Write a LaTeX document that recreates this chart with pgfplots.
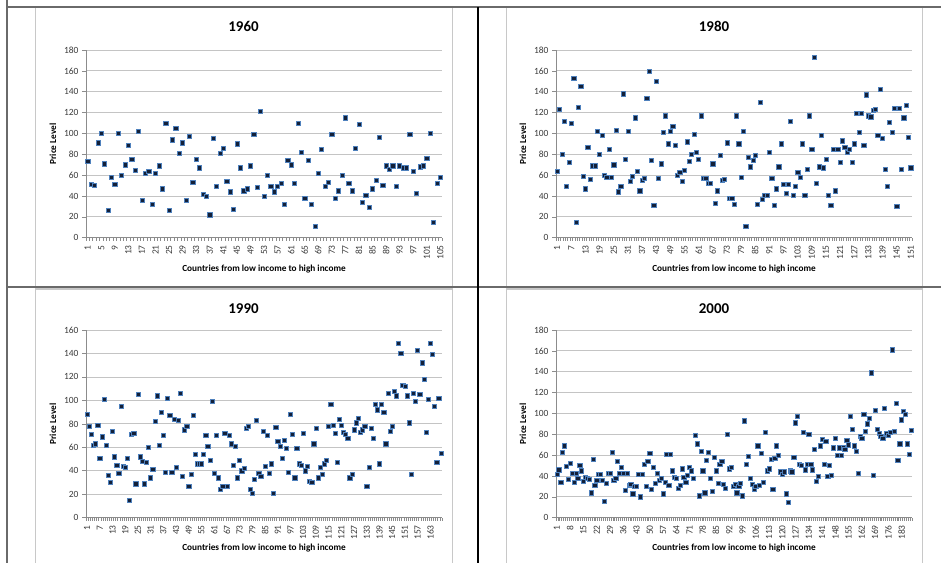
\documentclass[border=0pt]{standalone}
\usepackage{pgfplots}
\pgfplotsset{compat=1.18}
\usepackage{fontspec}
\setmainfont{Carlito}
\definecolor{mkfill}{HTML}{132038}
\definecolor{mkedge}{HTML}{4F81BD}
\definecolor{gridc}{HTML}{C4C4C4}
\definecolor{axc}{HTML}{8C8C8C}
\definecolor{tickc}{HTML}{3A3A3A}
\definecolor{tabc}{HTML}{6A6A6A}
\definecolor{chartb}{HTML}{C8C8C8}

\pgfplotsset{
  panel/.style={
    scale only axis, width=356bp, height=187.7bp, anchor=south west,
    axis x line*=bottom, axis y line*=left,
    axis line style={-, draw=axc, line width=0.8bp},
    tick align=outside,
    ymin=0,
    ymajorgrids, major grid style={draw=gridc, line width=0.8bp},
    major tick length=4bp, minor tick length=3bp,
    tick style={draw=axc, line width=0.6bp},
    major x tick style={draw=none},
    every tick label/.append style={font=\fontsize{9.5}{10}\selectfont, text=tickc},
    xticklabel style={rotate=90, anchor=east},
    yticklabel style={anchor=east},
    /pgf/number format/assume math mode=true,
    clip=false,
    enlargelimits=false,
  },
  mk/.style={only marks, mark=square*, mark size=2.1bp,
    mark options={fill=mkfill, draw=mkedge, line width=0.5bp}},
}

\begin{document}
\begin{tikzpicture}
\useasboundingbox (0bp,0bp) rectangle (941bp,563bp);
% chart area borders
\draw[chartb, line width=0.8bp] (35bp,275bp) rectangle (452bp,556bp);
\draw[chartb, line width=0.8bp] (506bp,275bp) rectangle (922bp,556bp);
\draw[chartb, line width=0.8bp] (35bp,-2bp) rectangle (452bp,274bp);
\draw[chartb, line width=0.8bp] (506bp,-2bp) rectangle (922bp,274bp);

% ---------------- 1960 ----------------
\begin{axis}[panel, at={(86bp,325.3bp)},
  xmin=0.5, xmax=105.5, ymax=180, ytick={0,20,...,180},
  xtick={1,5,...,105}, minor xtick={0.5,1.5,...,105.5}]
\addplot[mk] table[row sep=\\, x expr=\coordindex+1, y=v] {
v\\ 73\\ 51\\ 50\\ 91\\ 100\\ 71\\ 26\\ 58\\ 51\\ 100\\
60\\ 70\\ 89\\ 75\\ 65\\ 102\\ 36\\ 62\\ 64\\ 32\\
62\\ 69\\ 47\\ 110\\ 26\\ 94\\ 105\\ 81\\ 91\\ 36\\
97\\ 53\\ 75\\ 67\\ 42\\ 40\\ 22\\ 95\\ 49\\ 81\\
86\\ 54\\ 44\\ 27\\ 90\\ 67\\ 45\\ 47\\ 69\\ 99\\
48\\ 121\\ 40\\ 60\\ 49\\ 44\\ 49\\ 52\\ 32\\ 74\\
70\\ 52\\ 110\\ 82\\ 38\\ 74\\ 32\\ 11\\ 62\\ 85\\
49\\ 53\\ 99\\ 38\\ 45\\ 60\\ 115\\ 52\\ 45\\ 86\\
109\\ 34\\ 41\\ 29\\ 47\\ 55\\ 96\\ 50\\ 69\\ 66\\
69\\ 49\\ 69\\ 67\\ 67\\ 99\\ 64\\ 43\\ 68\\ 69\\
76\\ 100\\ 15\\ 52\\ 58\\
};
\end{axis}

% ---------------- 1980 ----------------
\begin{axis}[panel, at={(556bp,325.3bp)},
  xmin=0.5, xmax=151.5, ymax=180, ytick={0,20,...,180},
  xtick={1,7,...,151}, minor xtick={0.5,1.5,...,151.5}]
\addplot[mk] table[row sep=\\, x expr=\coordindex+1, y=v] {
v\\ 64\\ 123\\ 80\\ 112\\ 49\\ 72\\ 110\\ 153\\ 15\\ 125\\
145\\ 59\\ 47\\ 87\\ 56\\ 69\\ 69\\ 102\\ 80\\ 98\\
60\\ 58\\ 85\\ 58\\ 70\\ 103\\ 44\\ 49\\ 138\\ 75\\
102\\ 54\\ 59\\ 115\\ 64\\ 45\\ 55\\ 57\\ 134\\ 160\\
74\\ 31\\ 150\\ 57\\ 71\\ 101\\ 117\\ 90\\ 102\\ 107\\
89\\ 60\\ 63\\ 54\\ 65\\ 92\\ 73\\ 80\\ 99\\ 82\\
75\\ 117\\ 57\\ 57\\ 52\\ 52\\ 71\\ 33\\ 45\\ 79\\
55\\ 56\\ 91\\ 38\\
38\\ 32\\ 117\\ 90\\ 58\\ 102\\ 11\\ 77\\ 68\\ 74\\
79\\ 32\\ 130\\ 37\\ 41\\ 41\\ 82\\ 57\\ 31\\ 47\\
68\\ 90\\ 51\\ 43\\ 51\\ 112\\ 41\\ 49\\ 63\\ 58\\
90\\ 41\\ 66\\ 117\\ 85\\ 173\\ 52\\ 68\\ 98\\ 67\\
75\\ 41\\ 31\\ 85\\ 45\\ 85\\ 72\\ 93\\ 87\\ 82\\
85\\ 72\\ 90\\ 119\\ 101\\ 119\\ 89\\ 137\\ 117\\ 116\\
122\\ 123\\ 98\\ 142\\ 95\\ 66\\ 49\\ 111\\ 101\\ 124\\
30\\ 124\\ 66\\ 115\\ 127\\ 96\\ 67\\
};
\end{axis}

% ---------------- 1990 ----------------
\begin{axis}[panel, at={(86bp,45.3bp)},
  xmin=0.5, xmax=168.5, ymax=160, ytick={0,20,...,160},
  xtick={1,7,...,163}, minor xtick={0.5,1.5,...,168.5}]
\addplot[mk] table[row sep=\\, x expr=\coordindex+1, y=v] {
v\\ 88\\ 78\\ 71\\ 62\\ 63\\ 79\\ 51\\ 69\\ 101\\ 62\\
36\\ 30\\ 74\\ 52\\ 45\\ 38\\ 95\\ 44\\ 43\\ 51\\
15\\ 71\\ 72\\ 29\\ 105\\ 52\\ 48\\ 29\\ 47\\ 60\\
34\\ 41\\ 82\\ 104\\ 62\\ 90\\ 70\\ 39\\ 102\\ 87\\
39\\ 84\\ 43\\ 83\\ 106\\ 35\\ 75\\ 78\\ 27\\ 37\\
87\\ 54\\ 46\\ 46\\ 46\\ 54\\ 70\\ 61\\ 49\\ 99\\
38\\ 70\\ 34\\ 24\\ 27\\ 72\\ 27\\ 70\\ 63\\ 45\\
61\\ 34\\ 49\\ 40\\ 42\\ 76\\ 78\\ 24\\ 21\\ 33\\
83\\ 38\\ 35\\ 74\\
44\\ 70\\ 38\\ 46\\ 21\\ 77\\ 65\\ 61\\ 51\\ 66\\
59\\ 39\\ 88\\ 71\\ 34\\ 59\\ 46\\ 45\\ 72\\ 40\\
44\\ 31\\ 30\\ 63\\ 76\\ 34\\ 43\\ 37\\ 46\\ 49\\
78\\ 97\\ 79\\ 72\\ 47\\ 84\\ 79\\ 73\\ 71\\ 68\\
34\\ 37\\ 75\\ 81\\ 85\\ 73\\ 75\\ 78\\ 27\\ 43\\
76\\ 68\\ 97\\ 92\\ 46\\ 97\\ 90\\ 63\\ 106\\ 74\\
78\\ 108\\ 104\\ 149\\ 140\\ 113\\ 112\\ 104\\ 81\\ 37\\
106\\ 99\\ 143\\ 105\\ 132\\ 118\\ 73\\ 101\\ 149\\ 139\\
95\\ 47\\ 102\\ 55\\
};
\end{axis}

% ---------------- 2000 ----------------
\begin{axis}[panel, at={(556bp,45.3bp)},
  xmin=0.5, xmax=188.5, ymax=180, ytick={0,20,...,180},
  xtick={1,8,...,183}, minor xtick={0.5,1.5,...,188.5}]
\addplot[mk] table[row sep=\\, x expr=\coordindex+1, y=v] {
v\\ 42\\ 46\\ 34\\ 63\\ 69\\ 49\\ 37\\ 52\\ 43\\ 34\\
43\\ 38\\ 50\\ 45\\ 35\\ 39\\ 38\\ 37\\ 24\\ 56\\
31\\ 36\\ 42\\ 42\\ 36\\ 16\\ 33\\ 43\\ 43\\ 63\\
36\\ 38\\ 54\\ 43\\ 48\\ 43\\ 26\\ 43\\ 31\\ 32\\
23\\ 30\\ 30\\ 42\\ 20\\ 42\\ 51\\ 30\\ 54\\ 62\\
27\\ 48\\ 33\\ 43\\ 36\\ 38\\ 23\\ 34\\ 61\\ 31\\
61\\ 45\\ 39\\ 38\\ 28\\ 31\\ 47\\ 39\\ 34\\ 41\\
48\\ 45\\ 38\\ 79\\ 71\\ 21\\ 64\\ 45\\ 24\\ 55\\
63\\ 38\\ 25\\ 58\\ 45\\ 33\\ 51\\ 54\\ 32\\ 28\\
80\\ 47\\ 48\\ 30\\
32\\ 24\\ 30\\ 33\\ 21\\ 93\\ 51\\ 59\\ 38\\ 32\\
27\\ 30\\ 69\\ 31\\ 62\\ 34\\ 82\\ 45\\ 47\\ 56\\
27\\ 57\\ 69\\ 60\\ 44\\ 42\\ 44\\ 23\\ 15\\ 45\\
44\\ 58\\ 91\\ 97\\ 51\\ 50\\ 82\\ 46\\ 51\\ 80\\
51\\ 46\\ 66\\ 35\\ 40\\ 69\\ 75\\ 51\\ 73\\ 40\\
50\\ 41\\ 67\\ 76\\ 60\\ 67\\ 60\\ 67\\ 66\\ 74\\
70\\ 97\\ 85\\ 69\\ 64\\ 43\\ 78\\ 76\\ 99\\ 83\\
90\\ 95\\ 139\\ 41\\ 103\\ 85\\ 81\\ 78\\ 76\\ 105\\
81\\ 79\\ 82\\ 161\\ 83\\ 110\\ 55\\ 71\\ 94\\ 102\\
99\\ 71\\ 61\\ 84\\
};
\end{axis}

% titles and axis titles
\begin{scope}[every node/.style={font=\fontsize{15}{17}\selectfont\bfseries, text=black}]
\node at (243.5bp,537bp) {1960};
\node at (714bp,537bp) {1980};
\node at (243.5bp,254bp) {1990};
\node at (714bp,254bp) {2000};
\end{scope}
\begin{scope}[every node/.style={font=\fontsize{9.3}{11}\selectfont\bfseries, text=black}]
\node at (264bp,294bp) {Countries from low income to high income};
\node at (734bp,294bp) {Countries from low income to high income};
\node at (264bp,15bp) {Countries from low income to high income};
\node at (734bp,15bp) {Countries from low income to high income};
\node[rotate=90] at (53bp,419bp) {Price Level};
\node[rotate=90] at (523bp,419bp) {Price Level};
\node[rotate=90] at (53bp,139bp) {Price Level};
\node[rotate=90] at (523bp,139bp) {Price Level};
\end{scope}

% table lines
\draw[tabc, line width=1.4bp] (7bp,556bp) -- (941bp,556bp);
\draw[tabc, line width=1.4bp] (7bp,563bp) -- (7bp,0bp);
\draw[tabc, line width=1.6bp] (7bp,276bp) -- (941bp,276bp);
\draw[black, line width=1.2bp] (478bp,556bp) -- (478bp,0bp);
\end{tikzpicture}
\end{document}
